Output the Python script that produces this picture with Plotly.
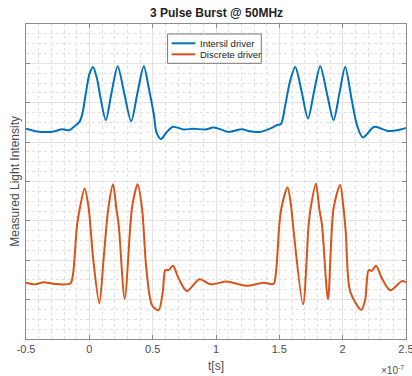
import plotly.graph_objects as go

# time in units of 1e-7 s
blue_t = [-0.5, -0.41, -0.28, -0.215, -0.16, -0.11, -0.077, -0.055, -0.03, 0.0,
          0.029, 0.06, 0.087, 0.13, 0.175, 0.224, 0.275, 0.33, 0.38, 0.43,
          0.47, 0.51, 0.53, 0.566, 0.61, 0.66, 0.745, 0.82, 0.915, 0.98,
          1.03, 1.10, 1.205, 1.257, 1.35, 1.44, 1.48, 1.513, 1.547, 1.585,
          1.626, 1.675, 1.726, 1.775, 1.823, 1.875, 1.928, 1.975, 2.02, 2.07,
          2.113, 2.16, 2.25, 2.35, 2.43, 2.5]
blue_v = [5.34, 5.27, 5.27, 5.33, 5.30, 5.42, 5.52, 5.72, 6.19, 6.72,
          6.91, 6.62, 6.15, 5.56, 6.25, 6.93, 6.25, 5.53, 6.25, 6.93,
          6.36, 5.69, 5.25, 5.08, 5.25, 5.39, 5.32, 5.34, 5.32, 5.37,
          5.33, 5.26, 5.33, 5.28, 5.26, 5.36, 5.43, 5.46, 5.94, 6.55,
          6.91, 6.30, 5.60, 6.30, 6.93, 6.25, 5.56, 6.25, 6.91, 6.10,
          5.43, 5.12, 5.39, 5.29, 5.30, 5.36]

red_t = [-0.5, -0.426, -0.36, -0.28, -0.15, -0.13, -0.097, -0.075, -0.037, -0.005,
         0.03, 0.079, 0.113, 0.15, 0.187, 0.213, 0.232, 0.279, 0.324, 0.34,
         0.381, 0.416, 0.45, 0.495, 0.547, 0.58, 0.60, 0.626, 0.66, 0.705,
         0.77, 0.87, 0.955, 1.087, 1.166, 1.245, 1.376, 1.455, 1.474, 1.50,
         1.516, 1.565, 1.595, 1.608, 1.687, 1.731, 1.747, 1.789, 1.815, 1.837,
         1.884, 1.928, 1.98, 2.007, 2.025, 2.06, 2.147, 2.178, 2.205, 2.23,
         2.263, 2.31, 2.376, 2.468, 2.5]
red_v = [1.43, 1.39, 1.44, 1.40, 1.41, 1.62, 2.89, 3.32, 3.82, 3.32,
         2.05, 0.91, 2.05, 3.32, 3.93, 3.32, 2.89, 1.02, 2.89, 3.40,
         3.93, 3.32, 1.79, 0.86, 0.73, 1.20, 1.75, 1.75, 1.86, 1.54,
         1.22, 1.52, 1.39, 1.46, 1.40, 1.35, 1.43, 1.40, 1.71, 2.90,
         3.32, 3.85, 3.32, 2.89, 0.88, 2.89, 3.32, 3.95, 3.32, 2.89,
         1.01, 3.32, 3.91, 3.32, 2.70, 1.20, 0.74, 1.00, 1.75, 1.73,
         1.86, 1.54, 1.24, 1.47, 1.44]

series_names = ["Intersil driver", "Discrete driver"]
series_colors = ["#0072BD", "#D95319"]

x_ticks = [-0.5, 0, 0.5, 1, 1.5, 2, 2.5]
x_labels = ["-0.5", "0", "0.5", "1", "1.5", "2", "2.5"]

FONT = "Liberation Sans, Arial"
GRAY = "#4d4d4d"

fig = go.Figure()
fig.add_trace(go.Scatter(x=blue_t, y=blue_v, mode="lines", name=series_names[0], showlegend=False,
                         line=dict(color=series_colors[0], width=2, shape="spline", smoothing=0.8)))
fig.add_trace(go.Scatter(x=red_t, y=red_v, mode="lines", name=series_names[1], showlegend=False,
                         line=dict(color=series_colors[1], width=2, shape="spline", smoothing=0.8)))

axis_common = dict(
    showline=True, linecolor="#8c8c8c", linewidth=1, mirror="ticks",
    ticks="inside", ticklen=4, tickcolor="#8c8c8c",
    showgrid=True, gridcolor="#e3e3e3", gridwidth=1, zeroline=False,
    automargin=False,
)
fig.update_xaxes(
    range=[-0.5, 2.5], tickvals=x_ticks, ticktext=x_labels,
    tickfont=dict(family=FONT, size=11, color=GRAY),
    ticklabeloverflow="allow",
    minor=dict(dtick=0.1, showgrid=True, gridcolor="#e0e0e0", griddash="dot", ticks=""),
    **axis_common,
)
fig.update_yaxes(
    range=[0, 8], dtick=1, showticklabels=False,
    minor=dict(dtick=0.25, showgrid=True, gridcolor="#e0e0e0", griddash="dot", ticks=""),
    **axis_common,
)

# legend box drawn in paper coordinates (compact, MATLAB-like)
shapes = [dict(type="rect", xref="paper", yref="paper", x0=0.3726, x1=0.6192, y0=0.8752, y1=0.9683,
               line=dict(color="#777777", width=1), fillcolor="white", opacity=1, layer="above")]
legend_rows = [0.9387, 0.9038]
annotations = []
for name, color, yr in zip(series_names, series_colors, legend_rows):
    shapes.append(dict(type="line", xref="paper", yref="paper", x0=0.3831, x1=0.4455, y0=yr, y1=yr,
                       line=dict(color=color, width=2), layer="above"))
    annotations.append(dict(text=name, x=0.4534, y=yr, xref="paper", yref="paper",
                            xanchor="left", yanchor="middle", showarrow=False,
                            font=dict(family=FONT, size=9.5, color="#222222")))

annotations += [
    dict(text="<b>3 Pulse Burst @ 50MHz</b>", x=0.5, y=1.0, xref="paper", yref="paper",
         xanchor="center", yanchor="bottom", yshift=2, showarrow=False,
         font=dict(family=FONT, size=12, color="#222222")),
    dict(text="t[s]", x=0.5, y=-0.086, xref="paper", yref="paper",
         xanchor="center", yanchor="middle", showarrow=False,
         font=dict(family=FONT, size=12, color=GRAY)),
    dict(text="Measured Light Intensity", x=-0.031, y=0.5, xref="paper", yref="paper",
         xanchor="center", yanchor="middle", textangle=-90, showarrow=False,
         font=dict(family=FONT, size=12, color=GRAY)),
    dict(text="×10<sup>-7</sup>", x=1.0, y=-0.072, xref="paper", yref="paper",
         xanchor="right", yanchor="top", showarrow=False,
         font=dict(family=FONT, size=10, color=GRAY)),
]

fig.update_layout(
    width=412, height=376,
    margin=dict(l=26, r=6, t=24, b=37),
    paper_bgcolor="white", plot_bgcolor="white",
    showlegend=False,
    shapes=shapes,
    annotations=annotations,
)

fig.write_html(
    "out.html",
    config={"displayModeBar": False},
    post_script="document.body.style.margin='0';document.body.style.overflow='hidden';",
)
